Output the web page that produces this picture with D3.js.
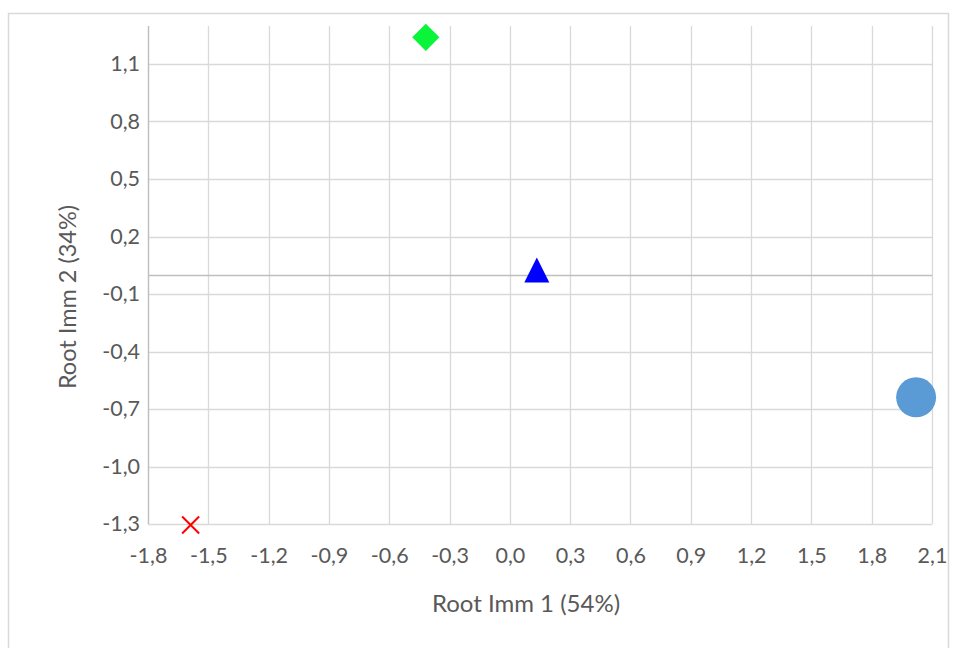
<!DOCTYPE html>
<html><head><meta charset="utf-8">
<script src="https://cdn.jsdelivr.net/npm/d3@7"></script>
<style>body{margin:0;background:#fff}svg{display:block}text{font-family:Lato,"Open Sans",sans-serif;fill:#595959}</style>
</head><body><svg id="c" width="955" height="648"></svg>
<script>
const seriesNames = ["Circle", "Triangle", "Diamond", "Cross"];
const xValues = [2.021, 0.134, -0.418, -1.588];
const yValues = [-0.639, 0.025, 1.239, -1.305];
const symbols = ["circle", "triangle", "diamond", "cross"];
const colors = ["#5b9bd5", "#0000ff", "#0af53a", "#ff0000"];
const xTicks = [-1.8,-1.5,-1.2,-0.9,-0.6,-0.3,0.0,0.3,0.6,0.9,1.2,1.5,1.8,2.1];
const yTicks = [-1.3,-1.0,-0.7,-0.4,-0.1,0.2,0.5,0.8,1.1];
const xDomain = [-1.8, 2.1];
const yDomain = [-1.3, 1.3];
const xTitle = "Root Imm 1 (54%)";
const yTitle = "Root Imm 2 (34%)";

const svg = d3.select("#c");
const loc = d3.formatLocale({decimal: ",", thousands: ".", grouping: [3], currency: ["", "€"], minus: "-"});
const fmt = loc.format(".1f");
const L = 148, R = 932, T = 26, B = 524;
const x = d3.scaleLinear().domain(xDomain).range([L, R]);
const y = d3.scaleLinear().domain(yDomain).range([B, B - (yDomain[1]-yDomain[0]) * (B - 64) / 2.4]);

svg.append("rect").attr("x", 8.5).attr("y", 13.5).attr("width", 940).attr("height", 660)
  .attr("fill", "#fff").attr("stroke", "#d9d9d9").attr("stroke-width", 1.5);

// gridlines
svg.append("g").selectAll("line").data(xTicks).join("line")
  .attr("x1", d => Math.round(x(d)) + 0.5).attr("x2", d => Math.round(x(d)) + 0.5)
  .attr("y1", T).attr("y2", B).attr("stroke", "#d9d9d9").attr("stroke-width", 1.3);
svg.append("g").selectAll("line").data(yTicks).join("line")
  .attr("y1", d => Math.round(y(d)) + 0.5).attr("y2", d => Math.round(y(d)) + 0.5)
  .attr("x1", L).attr("x2", R).attr("stroke", "#d9d9d9").attr("stroke-width", 1.3);

// axis lines
svg.append("line").attr("x1", L + 0.5).attr("x2", L + 0.5).attr("y1", T).attr("y2", B)
  .attr("stroke", "#bfbfbf").attr("stroke-width", 1.3);
svg.append("line").attr("x1", L).attr("x2", R).attr("y1", Math.round(y(0)) + 0.5).attr("y2", Math.round(y(0)) + 0.5)
  .attr("stroke", "#bfbfbf").attr("stroke-width", 1.3);

// tick labels via axes
const FS = 21.5;
const xa = svg.append("g").attr("transform", `translate(0,${B})`)
  .call(d3.axisBottom(x).tickValues(xTicks).tickFormat(fmt).tickSize(0).tickPadding(23.5));
xa.select(".domain").remove();
xa.selectAll("text").attr("font-size", FS).style("font-family", "Lato, sans-serif").attr("fill", "#595959");
const ya = svg.append("g").attr("transform", `translate(${L},0)`)
  .call(d3.axisLeft(y).tickValues(yTicks).tickFormat(fmt).tickSize(0).tickPadding(8));
ya.select(".domain").remove();
ya.selectAll("text").attr("font-size", FS).style("font-family", "Lato, sans-serif").attr("fill", "#595959");

// titles
svg.append("text").attr("x", 526).attr("y", 612).attr("text-anchor", "middle").attr("font-size", 24).text(xTitle);
svg.append("text").attr("transform", "translate(76,297) rotate(-90)").attr("text-anchor", "middle").attr("font-size", 23.5).text(yTitle);

// markers
const pts = svg.append("g");
seriesNames.forEach((n, i) => {
  const cx = x(xValues[i]), cy = y(yValues[i]);
  const s = symbols[i];
  if (s === "cross") {
    const h = 8.5;
    pts.append("path").attr("d", `M${cx-h},${cy-h}L${cx+h},${cy+h}M${cx-h},${cy+h}L${cx+h},${cy-h}`)
      .attr("stroke", colors[i]).attr("stroke-width", 2).attr("fill", "none");
  } else if (s === "diamond") {
    pts.append("path").attr("d", d3.symbol(d3.symbolSquare, 370)())
      .attr("transform", `translate(${cx},${cy}) rotate(45)`).attr("fill", colors[i]);
  } else if (s === "triangle") {
    const w = 12.5, top = cy - 12.5, bot = cy + 12.5;
    pts.append("path").attr("d", `M${cx},${top}L${cx+w},${bot}L${cx-w},${bot}Z`).attr("fill", colors[i]);
  } else {
    pts.append("path").attr("d", d3.symbol(d3.symbolCircle, 1256)())
      .attr("transform", `translate(${cx},${cy})`).attr("fill", colors[i]);
  }
});
</script></body></html>
